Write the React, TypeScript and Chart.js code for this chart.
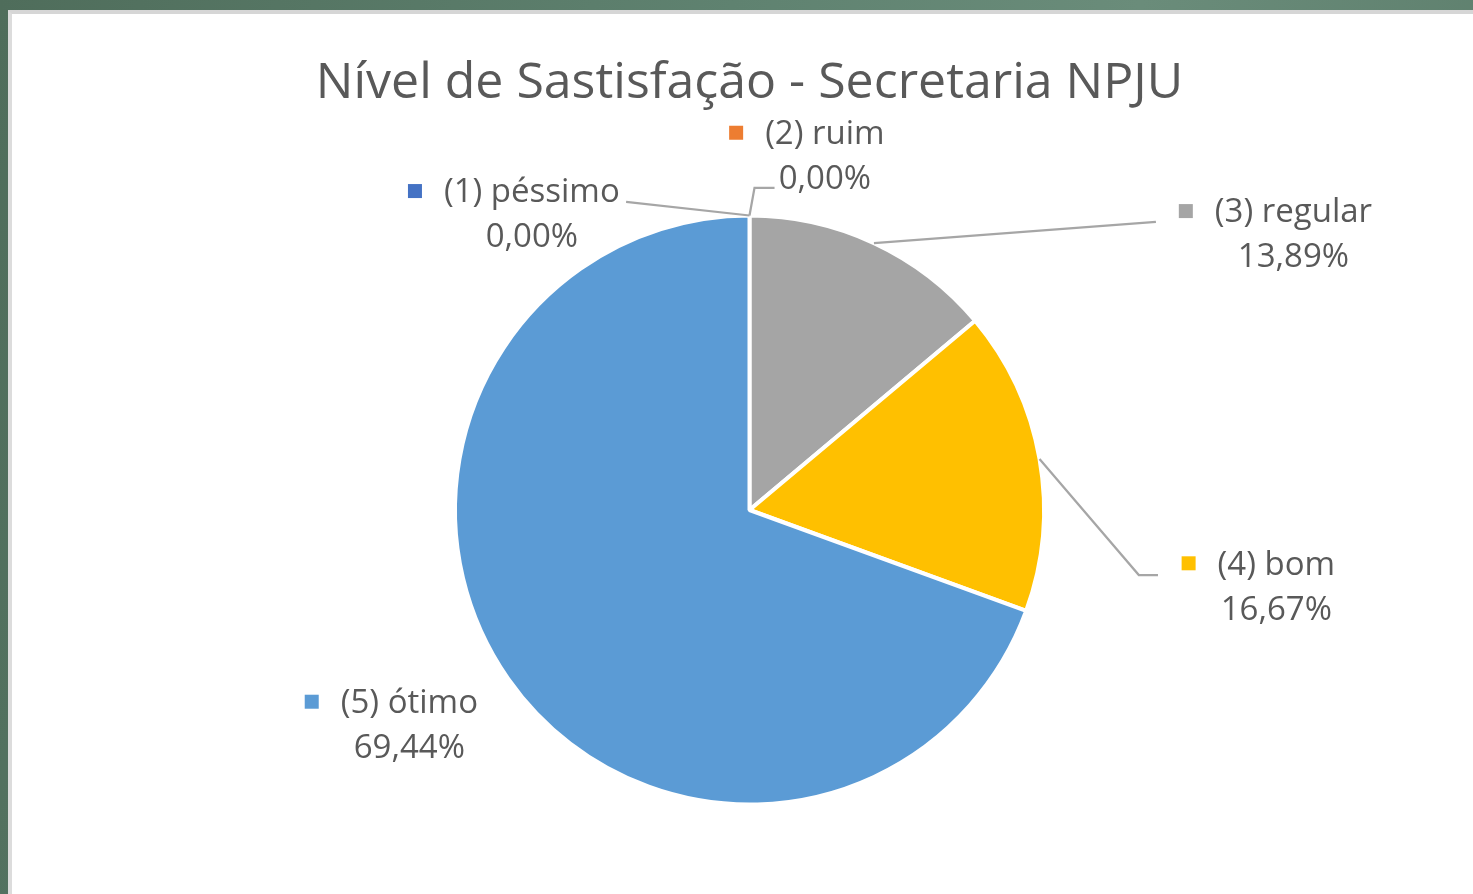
import React, { useEffect, useRef } from "react";
import { Chart, registerables } from "chart.js";

Chart.register(...registerables);

const titleText = "Nível de Sastisfação - Secretaria NPJU";
const categories = ["(1) péssimo", "(2) ruim", "(3) regular", "(4) bom", "(5) ótimo"];
const percentages = [0, 0, 13.89, 16.67, 69.44];
const sliceColors = ["#4472C4", "#ED7D31", "#A5A5A5", "#FFC000", "#5B9BD5"];

// label anchors (centre of first text line) relative to pie centre, in radius units
const labelAnchors = [
  { dx: -0.739, dy: -1.083 },
  { dx: 0.256, dy: -1.281 },
  { dx: 1.847, dy: -1.015 },
  { dx: 1.789, dy: 0.181 },
  { dx: -1.155, dy: 0.651 },
];

// leader line points after the slice edge, relative to pie centre, in radius units
const leaderPoints = [
  [{ dx: -0.419, dy: -1.046 }],
  [{ dx: 0.017, dy: -1.094 }, { dx: 0.085, dy: -1.094 }],
  [{ dx: 1.38, dy: -0.978 }],
  [{ dx: 1.322, dy: 0.221 }, { dx: 1.387, dy: 0.221 }],
  [],
];

const FONT = "'Open Sans', 'Noto Sans', sans-serif";
const TEXT_COLOR = "#595959";

const fmt = (v: number) => v.toFixed(2).replace(".", ",") + "%";

const labelPlugin = {
  id: "excelLabels",
  afterDatasetsDraw(chart: any) {
    const ctx = chart.ctx as CanvasRenderingContext2D;
    const meta = chart.getDatasetMeta(0);
    const arcs = meta.data as any[];
    if (!arcs.length) return;
    const cx = arcs[0].x;
    const cy = arcs[0].y;
    const R = arcs[0].outerRadius;
    ctx.save();
    ctx.strokeStyle = "#A6A6A6";
    ctx.lineWidth = 2.25;
    arcs.forEach((arc, i) => {
      const pts = leaderPoints[i];
      if (!pts.length) return;
      const mid = (arc.startAngle + arc.endAngle) / 2;
      ctx.beginPath();
      ctx.moveTo(cx + Math.cos(mid) * R, cy + Math.sin(mid) * R);
      pts.forEach((p) => ctx.lineTo(cx + p.dx * R, cy + p.dy * R));
      ctx.stroke();
    });
    ctx.restore();
  },
  afterDraw(chart: any) {
    const ctx = chart.ctx as CanvasRenderingContext2D;
    const meta = chart.getDatasetMeta(0);
    const arcs = meta.data as any[];
    if (!arcs.length) return;
    const cx = arcs[0].x;
    const cy = arcs[0].y;
    const R = arcs[0].outerRadius;
    ctx.save();
    // title
    ctx.fillStyle = TEXT_COLOR;
    ctx.font = `50px ${FONT}`;
    ctx.textAlign = "center";
    ctx.textBaseline = "middle";
    ctx.fillText(titleText, cx, 84);
    // labels
    ctx.font = `33px ${FONT}`;
    const lineH = 45;
    categories.forEach((cat, i) => {
      const a = labelAnchors[i];
      const x = cx + a.dx * R;
      const y = cy + a.dy * R;
      ctx.fillStyle = TEXT_COLOR;
      ctx.fillText(cat, x, y + 2);
      ctx.fillText(fmt(percentages[i]), x, y + lineH + 2);
      const w = ctx.measureText(cat).width;
      ctx.fillStyle = sliceColors[i];
      ctx.fillRect(x - w / 2 - 22 - 14, y - 7, 14, 14);
    });
    ctx.restore();
  },
};

export default function App() {
  const ref = useRef<HTMLCanvasElement>(null);
  useEffect(() => {
    if (!ref.current) return;
    const chart = new Chart(ref.current, {
      type: "pie",
      data: {
        labels: categories,
        datasets: [
          {
            data: percentages,
            backgroundColor: sliceColors,
            borderColor: "#FFFFFF",
            borderWidth: 4,
          },
        ],
      },
      options: {
        responsive: false,
        animation: false,
        layout: { padding: { left: 453, right: 427, top: 213, bottom: 87 } },
        plugins: {
          legend: { display: false },
          tooltip: { enabled: false },
          title: { display: false },
        },
      },
      plugins: [labelPlugin],
    });
    return () => chart.destroy();
  }, []);

  return (
    <div
      style={{
        position: "fixed",
        left: 0,
        top: 0,
        width: 1473,
        height: 894,
        overflow: "hidden",
        background: "linear-gradient(100deg, #4f6d5b 0%, #5f8270 45%, #6a8c7a 70%, #5c7d6b 100%)",
      }}
    >
      <div
        style={{
          position: "absolute",
          left: 8,
          top: 10,
          width: 1480,
          height: 900,
          boxSizing: "border-box",
          borderLeft: "4px solid #dcdcdc",
          borderTop: "4px solid #d6d6d6",
          background: "#ffffff",
        }}
      />
      <canvas
        ref={ref}
        width={1473}
        height={894}
        style={{ position: "absolute", left: 0, top: 0, width: 1473, height: 894 }}
      />
    </div>
  );
}
